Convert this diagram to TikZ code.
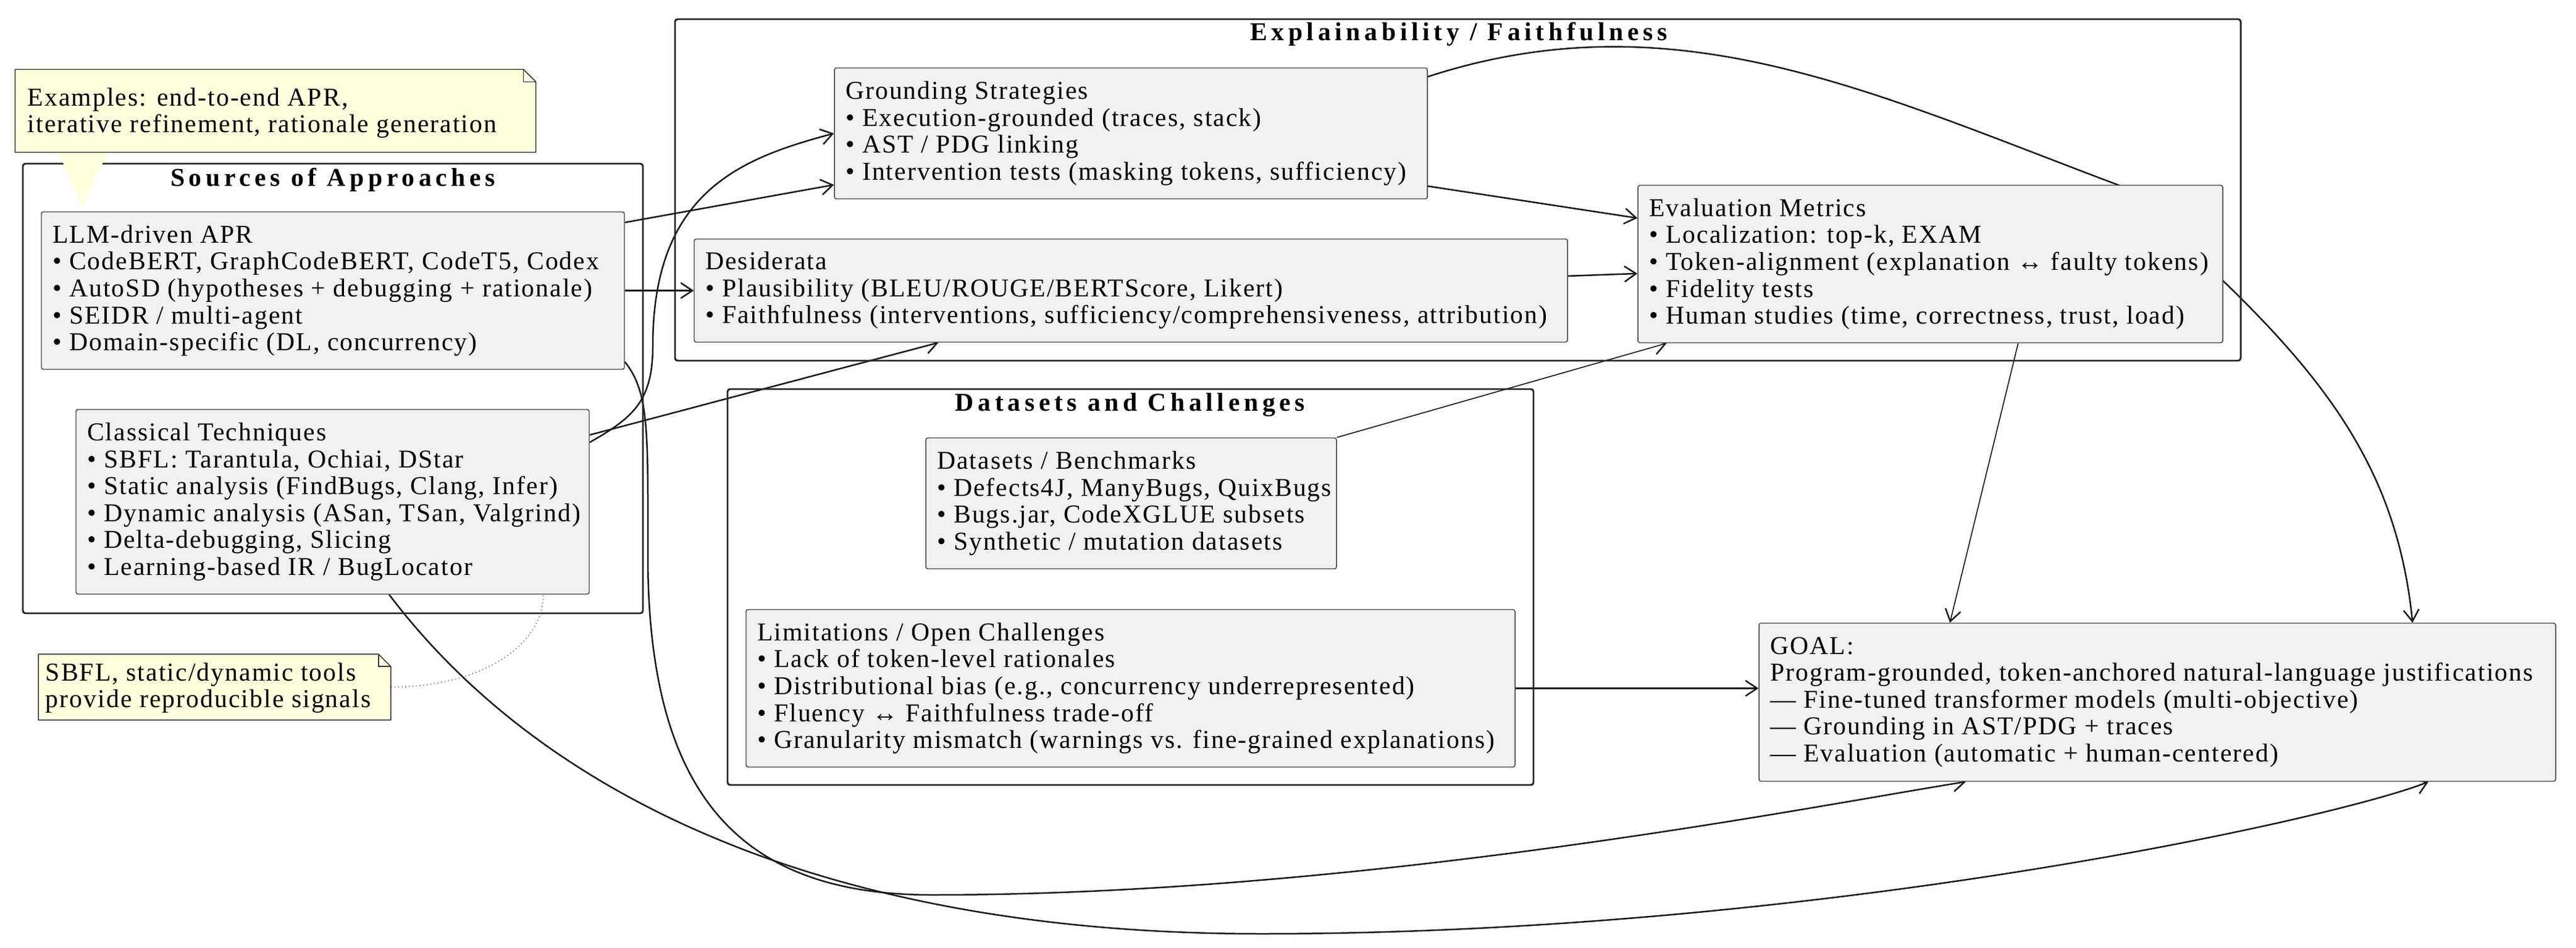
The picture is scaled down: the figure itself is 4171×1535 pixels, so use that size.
\documentclass[tikz,border=0pt]{standalone}
\usepackage{fontspec}
\setmainfont{Liberation Serif}[LetterSpace=5]
\usetikzlibrary{arrows.meta,calc,fit}
\pgfdeclarelayer{bg}
\pgfsetlayers{bg,main}
\definecolor{boxfill}{HTML}{F1F1F1}
\definecolor{notefill}{HTML}{FEFFDD}
\tikzset{
  cluster/.style={draw=black!85, line width=0.7pt, rounded corners=1pt, inner sep=0pt},
  box/.style={draw=black!75, fill=boxfill, line width=0.35pt, rounded corners=0.8pt, inner sep=0pt},
  note/.style={draw=black!80, fill=notefill, line width=0.35pt},
  txt/.style={font=\fontsize{10}{10.45}\selectfont, align=left, inner sep=0pt, anchor=west},
  ttl/.style={font=\bfseries\fontsize{10}{12}\selectfont\addfontfeature{LetterSpace=16}, inner sep=0pt},
  edge/.style={draw=black!90, line width=0.6pt, -{Straight Barb[length=4.5pt,width=6pt,line width=0.6pt]}},
  thin edge/.style={edge, line width=0.4pt},
}
\begin{document}
\begin{tikzpicture}[x=0.24pt,y=-0.24pt]
\useasboundingbox (0,0) rectangle (4171,1535);
% clusters
\node[cluster, fit={(37,265) (1041,993)}] (src) {};
\node[ttl] (srct) at (539,291) {Sources of Approaches};
\node[cluster, fit={(1093,31) (3628,584)}] (expl) {};
\node[ttl] (explt) at (2362,55) {Explainability / Faithfulness};
\node[cluster, fit={(1178,630) (2483,1271)}] (data) {};
\node[ttl] (datat) at (1830,656) {Datasets and Challenges};
% boxes
\node[box, fit={(67,343) (1011,598)}] (llm) {};
\node[txt] (llmt) at ([xshift=4.3pt]llm.west) {LLM-driven APR\\\textbullet{} CodeBERT, GraphCodeBERT, CodeT5, Codex\\\textbullet{} AutoSD (hypotheses + debugging + rationale)\\\textbullet{} SEIDR / multi-agent\\\textbullet{} Domain-specific (DL, concurrency)};
\node[box, fit={(123,663) (954,962)}] (cls) {};
\node[txt] (clst) at ([xshift=4.3pt]cls.west) {Classical Techniques\\\textbullet{} SBFL: Tarantula, Ochiai, DStar\\\textbullet{} Static analysis (FindBugs, Clang, Infer)\\\textbullet{} Dynamic analysis (ASan, TSan, Valgrind)\\\textbullet{} Delta-debugging, Slicing\\\textbullet{} Learning-based IR / BugLocator};
\node[box, fit={(1351,110) (2311,322)}] (grd) {};
\node[txt] (grdt) at ([xshift=4.3pt]grd.west) {Grounding Strategies\\\textbullet{} Execution-grounded (traces, stack)\\\textbullet{} AST / PDG linking\\\textbullet{} Intervention tests (masking tokens, sufficiency)};
\node[box, fit={(1124,387) (2538,554)}] (des) {};
\node[txt] (dest) at ([xshift=4.3pt]des.west) {Desiderata\\\textbullet{} Plausibility (BLEU/ROUGE/BERTScore, Likert)\\\textbullet{} Faithfulness (interventions, sufficiency/comprehensiveness, attribution)};
\node[box, fit={(2652,300) (3599,555)}] (evm) {};
\node[txt] (evmt) at ([xshift=4.3pt]evm.west) {Evaluation Metrics\\\textbullet{} Localization: top-k, EXAM\\\textbullet{} Token-alignment (explanation ↔ faulty tokens)\\\textbullet{} Fidelity tests\\\textbullet{} Human studies (time, correctness, trust, load)};
\node[box, fit={(1499,709) (2164,921)}] (dsb) {};
\node[txt] (dsbt) at ([xshift=4.3pt]dsb.west) {Datasets / Benchmarks\\\textbullet{} Defects4J, ManyBugs, QuixBugs\\\textbullet{} Bugs.jar, CodeXGLUE subsets\\\textbullet{} Synthetic / mutation datasets};
\node[box, fit={(1208,987) (2453,1242)}] (lim) {};
\node[txt] (limt) at ([xshift=4.3pt]lim.west) {Limitations / Open Challenges\\\textbullet{} Lack of token-level rationales\\\textbullet{} Distributional bias (e.g., concurrency underrepresented)\\\textbullet{} Fluency ↔ Faithfulness trade-off\\\textbullet{} Granularity mismatch (warnings vs. fine-grained explanations)};
\node[box, fit={(2848,1009) (4138,1265)}] (goal) {};
\node[txt] (goalt) at ([xshift=4.3pt]goal.west) {GOAL:\\Program-grounded, token-anchored natural-language justifications\\— Fine-tuned transformer models (multi-objective)\\— Grounding in AST/PDG + traces\\— Evaluation (automatic + human-centered)};
% notes
\fill[notefill] (88,231) -- (182,231) -- (133,335) -- cycle;
\node[note, fit={(39,127) (853,232)}, draw=none, fill=none] (n1) {};
\draw[note] (n1.north west) -- ([xshift=-4.8pt]n1.north east) -- ([yshift=-4.8pt]n1.north east) -- (n1.south east) -- (n1.south west) -- cycle;
\draw[black!80, line width=0.35pt] ([xshift=-4.8pt]n1.north east) |- ([yshift=-4.8pt]n1.north east);
\fill[notefill] (90,231) rectangle (180,233.5);
\node[txt, font=\fontsize{10}{10.45}\selectfont] (n1t) at (44,183) {Examples: end-to-end APR,\\iterative refinement, rationale generation};
\node[fit={(63,1060) (632,1165)}, inner sep=0pt] (n2) {};
\draw[note] (n2.north west) -- ([xshift=-4.8pt]n2.north east) -- ([yshift=-4.8pt]n2.north east) -- (n2.south east) -- (n2.south west) -- cycle;
\draw[black!80, line width=0.35pt] ([xshift=-4.8pt]n2.north east) |- ([yshift=-4.8pt]n2.north east);
\node[txt] (n2t) at (73,1114) {SBFL, static/dynamic tools\\provide reproducible signals};
% connectors
\begin{pgfonlayer}{bg}
\draw[black!50, densely dotted, line width=0.4pt] (n2.east) .. controls +(150,0) and +(0,80) .. ($(cls.south west)!0.91!(cls.south east)$);
\draw[edge] ($(llm.north east)!0.07!(llm.south east)$) -- ($(grd.north west)!0.89!(grd.south west)$);
\draw[edge] (llm.east) -- (des.west);
\coordinate (m3) at (1057,560);
\draw[edge] ($(cls.north east)!0.18!(cls.south east)$) .. controls +(70,-40) and +(0,90) .. (m3) .. controls +(0,-250) and +(-150,40) .. (grd.west);
\draw[edge] ($(cls.north east)!0.14!(cls.south east)$) -- ($(des.south west)!0.28!(des.south east)$);
\coordinate (m5a) at (1049,900);
\coordinate (m5b) at (1509,1449);
\draw[edge] ($(llm.north east)!0.95!(llm.south east)$) .. controls +(40,50) and +(0,-200) .. (m5a) .. controls +(0,400) and +(-300,0) .. (m5b) .. controls +(700,0) and +(-250,40) .. ($(goal.south west)!0.26!(goal.south east)$);
\coordinate (m6) at (2042,1512);
\draw[edge] ($(cls.south west)!0.61!(cls.south east)$) .. controls +(250,330) and +(-700,0) .. (m6) .. controls +(900,0) and +(-150,60) .. ($(goal.south west)!0.84!(goal.south east)$);
\coordinate (m9) at (3431,300);
\draw[edge] ($(grd.north east)!0.07!(grd.south east)$) .. controls +(400,-130) and +(-400,-150) .. (m9) .. controls +(280,250) and +(-30,-300) .. ($(goal.north west)!0.82!(goal.north east)$);
\draw[thin edge] ($(evm.south west)!0.65!(evm.south east)$) -- ($(goal.north west)!0.24!(goal.north east)$);
\draw[thin edge] (dsb.north east) -- ($(evm.south west)!0.05!(evm.south east)$);
\draw[edge] ($(grd.north east)!0.9!(grd.south east)$) -- ($(evm.north west)!0.21!(evm.south west)$);
\draw[edge] ($(des.north east)!0.36!(des.south east)$) -- ($(evm.north west)!0.56!(evm.south west)$);
\draw[edge] (lim.east) -- (lim.east -| goal.west);
\end{pgfonlayer}
\end{tikzpicture}
\end{document}
